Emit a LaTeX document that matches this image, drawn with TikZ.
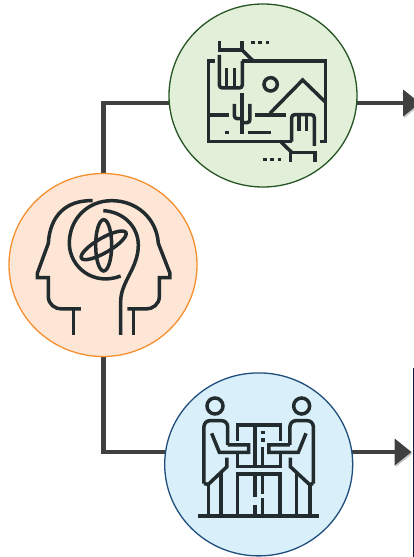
\documentclass[tikz,border=0pt]{standalone}
\usepackage{xcolor}
\usepackage{tikz}
\usetikzlibrary{shapes.geometric, arrows.meta, backgrounds}
\definecolor{icondark}{RGB}{34,43,45}
\definecolor{flowgray}{RGB}{64,64,64}
\definecolor{scenefill}{RGB}{226,240,218}
\definecolor{sceneedge}{RGB}{38,84,34}
\definecolor{mindfill}{RGB}{254,230,214}
\definecolor{mindedge}{RGB}{245,143,46}
\definecolor{teamfill}{RGB}{217,239,250}
\definecolor{teamedge}{RGB}{31,78,125}
\definecolor{rulenavy}{RGB}{15,25,70}
\tikzset{
    blob/.style={ellipse, line width=1.3pt, minimum width=188pt, minimum height=183pt, inner sep=0pt},
    scenecirc/.style={blob, fill=scenefill, draw=sceneedge},
    mindcirc/.style={blob, fill=mindfill, draw=mindedge},
    teamcirc/.style={blob, fill=teamfill, draw=teamedge},
    flow/.style={line width=4.8pt, draw=flowgray,
                 preaction={draw=black!22, transform canvas={shift={(1pt,-1.6pt)}}}},
    flowhead/.style={flow, -{Triangle[length=17pt, width=26pt]}},
    iconline/.style={line width=3.5pt, draw=icondark},
    icondots/.style={iconline, dash pattern=on 3.6pt off 3.8pt},
}
\begin{document}
\begin{tikzpicture}[x=1pt, y=-1pt]
    \useasboundingbox (0,0) rectangle (414,557);

    \node[scenecirc] (scene) at (263,95.5) {};
    \node[mindcirc] (mind) at (103,265) {};
    \node[teamcirc] (team) at (258.7,464.4) {};

    \coordinate (scenein) at (180,103);
    \coordinate (sceneout) at (345,103);
    \coordinate (sceneend) at (420,103);
    \coordinate (teamin) at (180,452);
    \coordinate (teamout) at (345,452);
    \coordinate (teamend) at (411.5,452);
    \coordinate (mindtop) at (103.5,190);
    \coordinate (mindbot) at (103.5,340);
    \coordinate (ruletop) at (413.3,368);
    \coordinate (rulebot) at (413.3,557);

    \begin{scope}[on background layer]
        \draw[flow] (mindtop) |- (scenein);
        \draw[flow] (mindbot) |- (teamin);
        \draw[flowhead] (sceneout) -- (sceneend);
        \draw[flowhead] (teamout) -- (teamend);
    \end{scope}
    \draw[line width=1.3pt, draw=rulenavy] (ruletop) -- (rulebot);

    % landscape icon
    \begin{scope}[shift={(160,0)}, x=0.3333pt, y=-0.3333pt]
        \draw[iconline] (165,183) -- (145,183) -- (145,425) -- (395,425);
        \draw[iconline] (246,183) -- (497,183) -- (497,425) -- (479,425);
        \draw[iconline] (178,123) -- (178,150) -- (246,150) -- (246,123);
        \draw[iconline] (246,150) -- (280,183);
        \draw[iconline, rounded corners=3pt] (178,165) -- (178,264) -- (247,264) -- (247,183);
        \draw[iconline] (200,205) -- (200,264);
        \draw[iconline] (223,205) -- (223,264);
        \draw[iconline] (332,253) circle [radius=20];
        \draw[iconline] (330,340) -- (428,240) -- (497,307);
        \draw[iconline] (145,345) -- (206,345);
        \draw[iconline] (285,345) -- (378,345);
        \draw[iconline] (246,280) -- (246,403);
        \draw[iconline, rounded corners=3pt] (223,312) -- (223,356) -- (246,356);
        \draw[iconline, rounded corners=3pt] (270,312) -- (270,368) -- (246,368);
        \draw[iconline] (195,398) -- (206,398);
        \draw[iconline] (265,398) -- (333,398);
        \draw[iconline, rounded corners=3pt] (395,425) -- (395,344) -- (463,344) -- (463,438);
        \draw[iconline] (417,344) -- (417,392);
        \draw[iconline] (440,344) -- (440,392);
        \draw[iconline] (360,423) -- (395,457);
        \draw[iconline] (392,486) -- (392,457) -- (465,457) -- (465,486);
        \draw[icondots] (273,128) -- (335,128);
        \draw[icondots] (309,479) -- (371,479);
    \end{scope}

    % two heads icon
    \begin{scope}[shift={(0,165)}, x=0.3333pt, y=-0.3333pt]
        \draw[iconline] (278,107) .. controls (200,105) and (150,150) .. (145,235)
            -- (112,325) -- (112,338) -- (145,338) -- (145,395)
            .. controls (145,418) and (165,432) .. (185,432) -- (243,432);
        \draw[iconline] (221,432) -- (221,510);
        \draw[iconline] (362,333) .. controls (280,365) and (208,305) .. (208,235)
            .. controls (208,160) and (265,107) .. (335,107)
            .. controls (410,107) and (470,160) .. (475,235)
            -- (510,325) -- (510,338) -- (478,338) -- (478,395)
            .. controls (478,418) and (458,432) .. (438,432) -- (382,432);
        \draw[iconline] (400,432) -- (400,510);
        \draw[iconline] (310,137) .. controls (370,140) and (415,185) .. (415,240)
            .. controls (415,310) and (362,350) .. (362,410) -- (362,510);
        \draw[iconline] (311,241) ellipse [x radius=24, y radius=77];
        \draw[iconline, rotate around={30:(311,241)}] (311,241) ellipse [x radius=77, y radius=22];
    \end{scope}

    % meeting icon
    \begin{scope}[shift={(160,365)}, x=0.3333pt, y=-0.3333pt]
        \draw[iconline, line width=4pt] (115,452) -- (477,452);
        \draw[iconline] (165,123) circle [radius=24];
        \draw[iconline] (425,123) circle [radius=24];
        \draw[iconline, rounded corners=6pt] (132,356) -- (132,167) -- (203,167) -- (203,240);
        \draw[iconline] (203,240) -- (266,240) -- (266,262) -- (178,262) -- (155,205);
        \draw[iconline] (132,356) -- (145,358) -- (201,305) -- (201,278);
        \draw[iconline] (145,356) -- (145,452);
        \draw[iconline] (183,325) -- (183,452);
        \draw[iconline, rounded corners=6pt] (460,356) -- (460,167) -- (390,167) -- (390,240);
        \draw[iconline] (390,240) -- (327,240) -- (327,262) -- (415,262) -- (438,205);
        \draw[iconline] (460,356) -- (448,358) -- (391,305) -- (391,278);
        \draw[iconline] (450,356) -- (450,452);
        \draw[iconline] (410,325) -- (410,452);
        \draw[iconline] (232,228) -- (232,180) -- (362,180) -- (362,228);
        \draw[iconline] (232,262) -- (232,305) -- (362,305) -- (362,262);
        \draw[iconline] (285,180) -- (285,305);
        \draw[iconline] (302,202) -- (314,202);
        \draw[iconline] (302,225) -- (314,225);
        \draw[iconline] (308,245) -- (308,305);
        \draw[iconline] (233,452) -- (233,327) -- (360,327) -- (360,452);
        \draw[iconline] (285,327) -- (285,395);
        \draw[iconline] (285,420) -- (285,452);
        \draw[iconline] (308,327) -- (308,386);
        \draw[iconline] (308,400) -- (308,452);
    \end{scope}
\end{tikzpicture}
\end{document}
